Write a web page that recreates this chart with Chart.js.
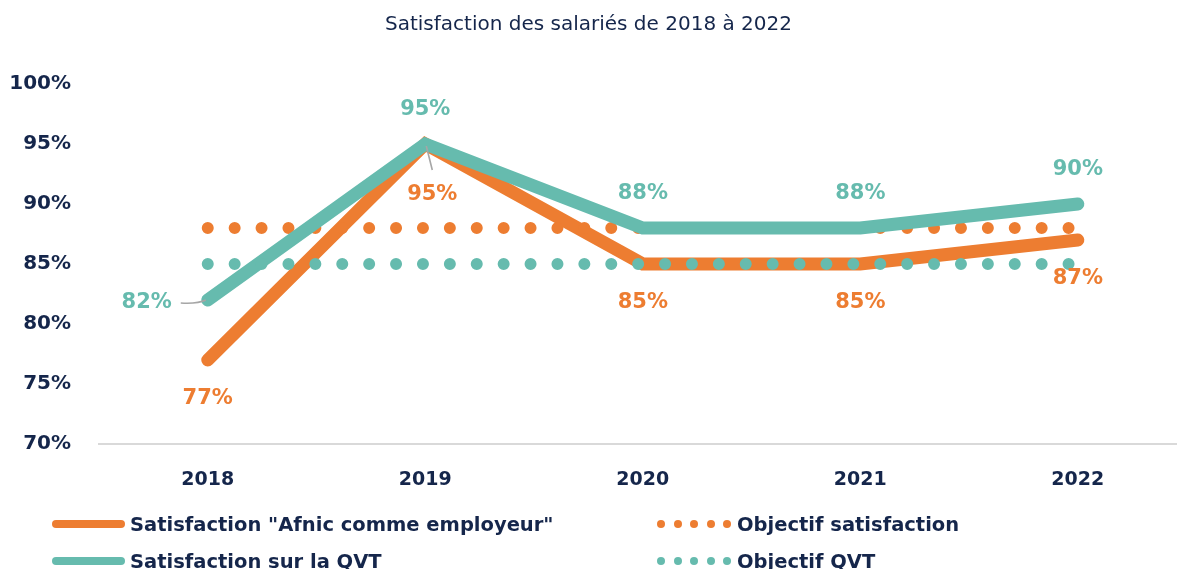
<!DOCTYPE html>
<html>
<head>
<meta charset="utf-8">
<script src="https://cdn.jsdelivr.net/npm/chart.js@4/dist/chart.umd.min.js"></script>
<style>
  html,body{margin:0;padding:0;background:#fff;}
  #wrap{position:relative;width:1177px;height:569px;overflow:hidden;}
  #c{position:absolute;left:0;top:0;}
  .leg{position:absolute;display:flex;align-items:center;font-family:"DejaVu Sans",sans-serif;font-weight:700;font-size:19.5px;color:#15264b;white-space:nowrap;height:30px;}
  .line{width:73px;height:8px;border-radius:4px;margin-right:5px;}
  .dots{display:flex;width:74px;justify-content:space-between;margin-right:6px;}
  .dot{width:8px;height:8px;border-radius:50%;}
</style>
</head>
<body>
<div id="wrap">
  <canvas id="c" width="1177" height="569"></canvas>
</div>
<script>
const categories = ["2018", "2019", "2020", "2021", "2022"];
const satisfactionAfnic = [77, 95, 85, 85, 87];
const satisfactionQVT = [82, 95, 88, 88, 90];
const objectifSatisfaction = [88, 88, 88, 88, 88];
const objectifQVT = [85, 85, 85, 85, 85];
const yTicks = [70, 75, 80, 85, 90, 95, 100];

const ORANGE = "#ED7D31";
const TEAL = "#66BBAE";
const NAVY = "#15264b";
const FONT = "'DejaVu Sans', sans-serif";

const pts = arr => arr.map((v, i) => ({x: i, y: v}));

const datasets = [
  {label: 'Satisfaction "Afnic comme employeur"', data: pts(satisfactionAfnic), borderColor: ORANGE, backgroundColor: ORANGE,
   borderWidth: 13, borderCapStyle: 'round', borderJoinStyle: 'miter', pointRadius: 0, order: 4, clip: false, _kind: 'solid', _labels: 'below'},
  {label: 'Objectif satisfaction', data: pts(objectifSatisfaction), borderColor: ORANGE, backgroundColor: ORANGE,
   borderWidth: 12, borderCapStyle: 'round', borderDash: [0, 26.9], pointRadius: 0, order: 3, clip: false, _kind: 'dots'},
  {label: 'Satisfaction sur la QVT', data: pts(satisfactionQVT), borderColor: TEAL, backgroundColor: TEAL,
   borderWidth: 13, borderCapStyle: 'round', borderJoinStyle: 'miter', pointRadius: 0, order: 2, clip: false, _kind: 'solid', _labels: 'above'},
  {label: 'Objectif QVT', data: pts(objectifQVT), borderColor: TEAL, backgroundColor: TEAL,
   borderWidth: 12, borderCapStyle: 'round', borderDash: [0, 26.9], pointRadius: 0, order: 1, clip: false, _kind: 'dots'}
];

const labelPlugin = {
  id: 'valueLabels',
  afterDatasetsDraw(chart) {
    const ctx = chart.ctx;
    ctx.save();
    ctx.font = "700 21px " + FONT;
    ctx.textAlign = 'center';
    ctx.textBaseline = 'middle';
    chart.data.datasets.forEach((ds, di) => {
      if (ds._kind !== 'solid') return;
      const meta = chart.getDatasetMeta(di);
      meta.data.forEach((el, i) => {
        const v = ds.data[i].y;
        let dx = 0, dy = ds._labels === 'above' ? -34 : 39;
        let leader = null;
        if (ds._labels === 'above' && i === 0) { dx = -61; dy = 3; leader = 'left'; }
        if (ds._labels === 'below' && i === 1) { dx = 7; dy = 51; leader = 'down'; }
        if (leader) {
          ctx.strokeStyle = '#a6a6a6';
          ctx.lineWidth = 1.6;
          ctx.beginPath();
          if (leader === 'left') {
            ctx.moveTo(el.x - 27, el.y + 3);
            ctx.quadraticCurveTo(el.x - 10, el.y + 4, el.x - 2, el.y);
          } else {
            ctx.moveTo(el.x + 1, el.y + 2);
            ctx.lineTo(el.x + 7, el.y + 26);
          }
          ctx.stroke();
        }
        ctx.fillStyle = ds.borderColor;
        ctx.fillText(v + '%', el.x + dx, el.y + dy);
      });
    });
    ctx.restore();
  }
};

new Chart(document.getElementById('c'), {
  type: 'line',
  data: {datasets},
  plugins: [labelPlugin],
  options: {
    responsive: false,
    devicePixelRatio: 1,
    animation: false,
    layout: {padding: {left: 0, right: 0, top: 0, bottom: 65}},
    plugins: {
      legend: {display: false},
      tooltip: {enabled: false},
      title: {display: true, text: 'Satisfaction des salariés de 2018 à 2022', color: NAVY,
        font: {family: FONT, size: 20, weight: 'normal'}, padding: {top: 13, bottom: 47}}
    },
    scales: {
      x: {
        type: 'linear', min: -0.5, max: 4.456,
        afterBuildTicks: axis => { axis.ticks = categories.map((c, i) => ({value: i})); },
        afterFit: axis => { axis.height = 60; },
        grid: {display: false, drawTicks: false},
        border: {display: true, color: '#d9d9d9', width: 2},
        ticks: {padding: 25, color: NAVY, font: {family: FONT, size: 19, weight: '700'},
          callback: v => categories[v] ?? ''}
      },
      y: {
        min: 70, max: 100,
        afterBuildTicks: axis => { axis.ticks = yTicks.map(v => ({value: v})); },
        afterFit: axis => { axis.width = 99; },
        grid: {display: false, drawTicks: false},
        border: {display: false},
        ticks: {padding: 28, color: NAVY, font: {family: FONT, size: 20, weight: '700'},
          callback: v => v + '%'}
      }
    }
  }
});

// HTML legend built from datasets
const wrap = document.getElementById('wrap');
const legendPos = [[52, 524], [657, 524], [52, 561], [657, 561]];
datasets.forEach((ds, i) => {
  const d = document.createElement('div');
  d.className = 'leg';
  d.style.left = legendPos[i][0] + 'px';
  d.style.top = (legendPos[i][1] - 15) + 'px';
  if (ds._kind === 'solid') {
    const l = document.createElement('div');
    l.className = 'line'; l.style.background = ds.borderColor;
    d.appendChild(l);
  } else {
    const g = document.createElement('div');
    g.className = 'dots';
    for (let k = 0; k < 5; k++) {
      const o = document.createElement('div');
      o.className = 'dot'; o.style.background = ds.borderColor;
      g.appendChild(o);
    }
    d.appendChild(g);
  }
  const t = document.createElement('span');
  t.textContent = ds.label;
  d.appendChild(t);
  wrap.appendChild(d);
});
</script>
</body>
</html>
